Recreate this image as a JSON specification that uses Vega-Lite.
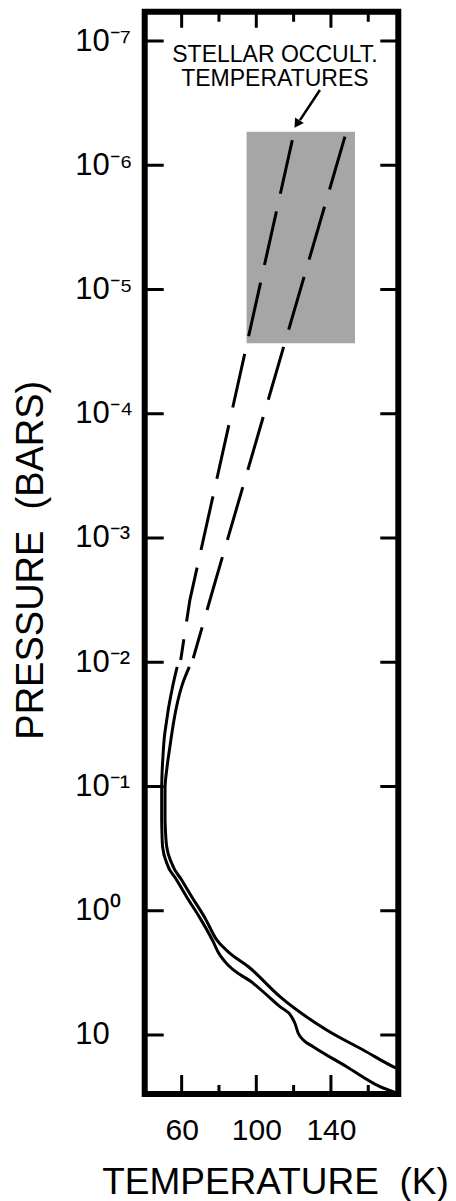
{
  "$schema": "https://vega.github.io/schema/vega-lite/v6.json",
  "width": 253.6,
  "height": 1082.3,
  "autosize": {"type": "none"},
  "padding": {"left": 144.7, "top": 11.7, "right": 57.7, "bottom": 107},
  "background": "white",
  "config": {
    "view": {"stroke": "black", "strokeWidth": 6},
    "font": "Liberation Sans",
    "axis": {
      "domain": false,
      "grid": false,
      "ticks": false,
      "labelColor": "black",
      "titleColor": "black",
      "labelFont": "Liberation Sans",
      "titleFont": "Liberation Sans",
      "titleFontWeight": "normal",
      "labelFlush": false,
      "labelOverlap": false
    },
    "tick": {"thickness": 3, "color": "black", "opacity": 1}
  },
  "datasets": {
    "box": [{"T1": 94.8, "T2": 152.9, "P1": 5.37e-7, "P2": 2.71e-5}],
    "pticks": [{"P": 1e-7}, {"P": 1e-6}, {"P": 1e-5}, {"P": 1e-4}, {"P": 1e-3}, {"P": 1e-2}, {"P": 1e-1}, {"P": 1}, {"P": 10}],
    "tmajor": [{"T": 60}, {"T": 100}, {"T": 140}],
    "tminor": [{"T": 80}, {"T": 120}, {"T": 160}],
    "dashed": [
      {"series": "cool", "i": 1, "T": 119.3, "P": 6.27e-7},
      {"series": "cool", "i": 2, "T": 64.4, "P": 3.16e-3},
      {"series": "cool", "i": 3, "T": 59.5, "P": 9.59e-3},
      {"series": "warm", "i": 1, "T": 147.5, "P": 5.89e-7},
      {"series": "warm", "i": 2, "T": 76.7, "P": 2.62e-3},
      {"series": "warm", "i": 3, "T": 66.2, "P": 9.29e-3}
    ],
    "solid": [
      {"series": "cool", "i": 1, "T": 57.6, "P": 0.0109},
      {"series": "cool", "i": 2, "T": 54.8, "P": 0.0167},
      {"series": "cool", "i": 3, "T": 52.0, "P": 0.0292},
      {"series": "cool", "i": 4, "T": 50.1, "P": 0.0537},
      {"series": "cool", "i": 5, "T": 49.3, "P": 0.101},
      {"series": "cool", "i": 6, "T": 49.3, "P": 0.186},
      {"series": "cool", "i": 7, "T": 49.8, "P": 0.307},
      {"series": "cool", "i": 8, "T": 52.0, "P": 0.413},
      {"series": "cool", "i": 9, "T": 57.0, "P": 0.555},
      {"series": "cool", "i": 10, "T": 62.7, "P": 0.775},
      {"series": "cool", "i": 11, "T": 69.8, "P": 1.143},
      {"series": "cool", "i": 12, "T": 76.9, "P": 1.775},
      {"series": "cool", "i": 13, "T": 79.5, "P": 2.148},
      {"series": "cool", "i": 14, "T": 83.2, "P": 2.57},
      {"series": "cool", "i": 15, "T": 98.4, "P": 3.837},
      {"series": "cool", "i": 16, "T": 112.7, "P": 5.916},
      {"series": "cool", "i": 17, "T": 118.9, "P": 7.12},
      {"series": "cool", "i": 18, "T": 120.7, "P": 8.05},
      {"series": "cool", "i": 19, "T": 122.5, "P": 9.68},
      {"series": "cool", "i": 20, "T": 125.2, "P": 10.96},
      {"series": "cool", "i": 21, "T": 130.5, "P": 12.42},
      {"series": "cool", "i": 22, "T": 148.4, "P": 17.99},
      {"series": "cool", "i": 23, "T": 166.3, "P": 26.06},
      {"series": "cool", "i": 24, "T": 175.2, "P": 29.44},
      {"series": "cool", "i": 25, "T": 178, "P": 31},
      {"series": "warm", "i": 1, "T": 64.1, "P": 0.0109},
      {"series": "warm", "i": 2, "T": 55.9, "P": 0.0292},
      {"series": "warm", "i": 3, "T": 53.7, "P": 0.0479},
      {"series": "warm", "i": 4, "T": 52.0, "P": 0.0736},
      {"series": "warm", "i": 5, "T": 51.1, "P": 0.101},
      {"series": "warm", "i": 6, "T": 51.1, "P": 0.186},
      {"series": "warm", "i": 7, "T": 52.0, "P": 0.306},
      {"series": "warm", "i": 8, "T": 54.6, "P": 0.413},
      {"series": "warm", "i": 9, "T": 60.0, "P": 0.566},
      {"series": "warm", "i": 10, "T": 65.4, "P": 0.771},
      {"series": "warm", "i": 11, "T": 72.5, "P": 1.143},
      {"series": "warm", "i": 12, "T": 78.8, "P": 1.718},
      {"series": "warm", "i": 13, "T": 85.0, "P": 2.14},
      {"series": "warm", "i": 14, "T": 96.6, "P": 2.89},
      {"series": "warm", "i": 15, "T": 112.7, "P": 4.92},
      {"series": "warm", "i": 16, "T": 137.7, "P": 9.12},
      {"series": "warm", "i": 17, "T": 157.3, "P": 13.21},
      {"series": "warm", "i": 18, "T": 175.2, "P": 18.54},
      {"series": "warm", "i": 19, "T": 178, "P": 19.3}
    ],
    "labels": [
      {"text": "STELLAR OCCULT.", "T": 110, "P": 1.468e-7},
      {"text": "TEMPERATURES", "T": 110, "P": 2.30e-7}
    ],
    "arrow": [{"T": 134.1, "P": 2.48e-7, "T2": 123.4, "P2": 4.33e-7}],
    "head": [{"T": 121.8, "P": 4.66e-7}]
  },
  "layer": [
    {
      "data": {"name": "box"},
      "mark": {"type": "rect", "fill": "#a6a6a6", "stroke": null},
      "encoding": {
        "x": {
          "field": "T1", "type": "quantitative",
          "scale": {"domain": [40.2, 176.1], "nice": false, "zero": false},
          "axis": {
            "orient": "bottom", "values": [60, 100, 140],
            "labelFontSize": 30, "labelPadding": 21, "labelBaseline": "top",
            "title": "TEMPERATURE\u00a0\u00a0(K)", "titleFontSize": 37,
            "titleX": 130.3, "titleY": 99, "titleAlign": "center", "titleBaseline": "alphabetic"
          }
        },
        "x2": {"field": "T2"},
        "y": {
          "field": "P1", "type": "quantitative",
          "scale": {"type": "log", "domain": [5.81e-8, 29.85], "reverse": true, "nice": false},
          "axis": {
            "orient": "left", "values": [1e-7, 1e-6, 1e-5, 1e-4, 1e-3, 1e-2, 1e-1, 1, 10],
            "labelFontSize": 31, "labelAlign": "left", "labelBaseline": "middle",
            "labelPadding": 70,
            "labelExpr": "datum.value >= 5 ? '10' : datum.value >= 0.5 ? '10⁰' : datum.value >= 0.05 ? '10⁻¹' : datum.value >= 0.005 ? '10⁻²' : datum.value >= 0.0005 ? '10⁻³' : datum.value >= 0.00005 ? '10⁻⁴' : datum.value >= 0.000005 ? '10⁻⁵' : datum.value >= 0.0000005 ? '10⁻⁶' : '10⁻⁷'",
            "title": "PRESSURE\u00a0\u00a0(BARS)", "titleFontSize": 38, "titleAngle": 270,
            "titleX": -113, "titleY": 548, "titleAlign": "center", "titleBaseline": "middle"
          }
        },
        "y2": {"field": "P2"}
      }
    },
    {
      "data": {"name": "pticks"},
      "mark": {"type": "tick", "orient": "horizontal", "size": 38, "clip": true},
      "encoding": {
        "x": {"datum": 40.2, "type": "quantitative"},
        "y": {"field": "P", "type": "quantitative"}
      }
    },
    {
      "data": {"name": "pticks"},
      "mark": {"type": "tick", "orient": "horizontal", "size": 36, "clip": true},
      "encoding": {
        "x": {"datum": 176.1, "type": "quantitative"},
        "y": {"field": "P", "type": "quantitative"}
      }
    },
    {
      "data": {"name": "tmajor"},
      "mark": {"type": "tick", "orient": "vertical", "size": 38, "clip": true},
      "encoding": {
        "x": {"field": "T", "type": "quantitative"},
        "y": {"datum": 29.85, "type": "quantitative"}
      }
    },
    {
      "data": {"name": "tminor"},
      "mark": {"type": "tick", "orient": "vertical", "size": 18, "clip": true},
      "encoding": {
        "x": {"field": "T", "type": "quantitative"},
        "y": {"datum": 29.85, "type": "quantitative"}
      }
    },
    {
      "data": {"name": "tmajor"},
      "mark": {"type": "tick", "orient": "vertical", "size": 32, "clip": true},
      "encoding": {
        "x": {"field": "T", "type": "quantitative"},
        "y": {"datum": 5.81e-8, "type": "quantitative"}
      }
    },
    {
      "data": {"name": "tminor"},
      "mark": {"type": "tick", "orient": "vertical", "size": 20, "clip": true},
      "encoding": {
        "x": {"field": "T", "type": "quantitative"},
        "y": {"datum": 5.81e-8, "type": "quantitative"}
      }
    },
    {
      "data": {"name": "dashed"},
      "mark": {"type": "line", "color": "black", "strokeWidth": 3, "strokeDash": [55, 18], "clip": true},
      "encoding": {
        "x": {"field": "T", "type": "quantitative"},
        "y": {"field": "P", "type": "quantitative"},
        "detail": {"field": "series", "type": "nominal"},
        "order": {"field": "i", "type": "quantitative"}
      }
    },
    {
      "data": {"name": "solid"},
      "mark": {"type": "line", "color": "black", "strokeWidth": 3, "clip": true, "interpolate": "monotone"},
      "encoding": {
        "x": {"field": "T", "type": "quantitative"},
        "y": {"field": "P", "type": "quantitative"},
        "detail": {"field": "series", "type": "nominal"},
        "order": {"field": "i", "type": "quantitative"}
      }
    },
    {
      "data": {"name": "labels"},
      "mark": {"type": "text", "fontSize": 23, "baseline": "alphabetic", "align": "center", "font": "Liberation Sans", "color": "black"},
      "encoding": {
        "x": {"field": "T", "type": "quantitative"},
        "y": {"field": "P", "type": "quantitative"},
        "text": {"field": "text", "type": "nominal"}
      }
    },
    {
      "data": {"name": "arrow"},
      "mark": {"type": "rule", "color": "black", "strokeWidth": 2.5},
      "encoding": {
        "x": {"field": "T", "type": "quantitative"},
        "y": {"field": "P", "type": "quantitative"},
        "x2": {"field": "T2"},
        "y2": {"field": "P2"}
      }
    },
    {
      "data": {"name": "head"},
      "mark": {"type": "point", "shape": "triangle-down", "filled": true, "color": "black", "opacity": 1, "size": 110, "angle": 33},
      "encoding": {
        "x": {"field": "T", "type": "quantitative"},
        "y": {"field": "P", "type": "quantitative"}
      }
    }
  ]
}
